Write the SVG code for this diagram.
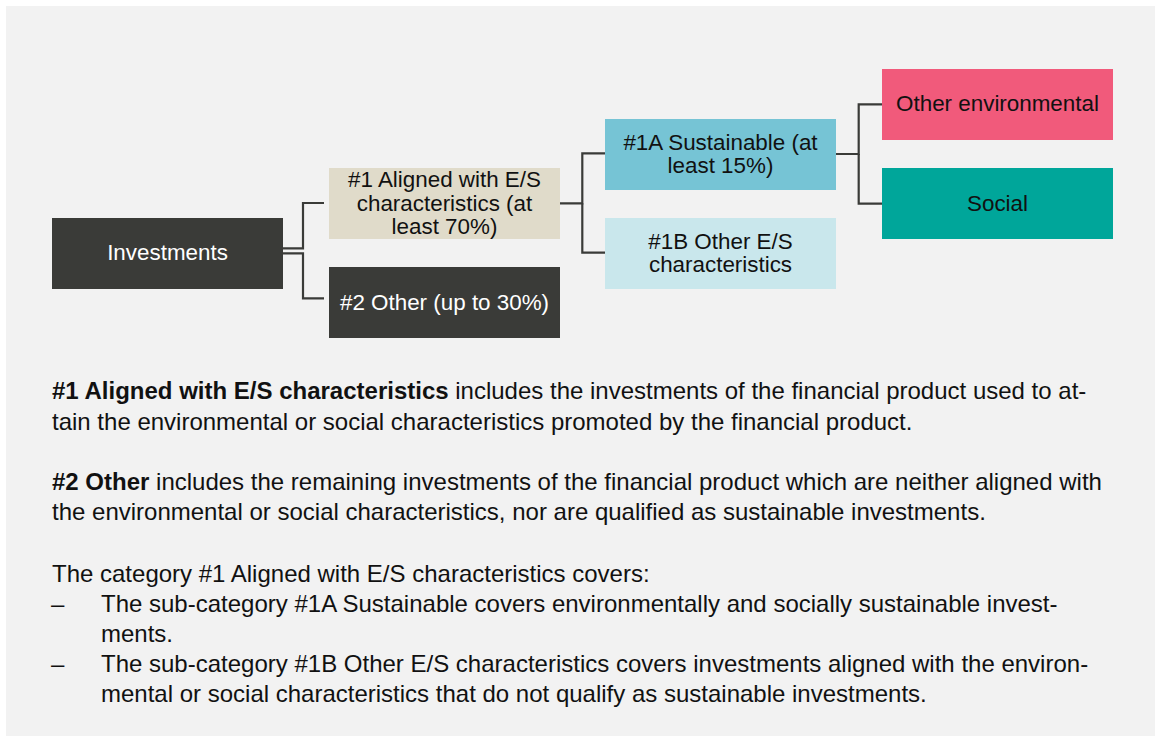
<svg xmlns="http://www.w3.org/2000/svg" width="1155" height="736" viewBox="0 0 1155 736">
  <style>
    .box-dark { fill: #3a3b38; }
    .box-beige { fill: #e0dbca; }
    .box-blue { fill: #76c4d5; }
    .box-pale { fill: #c9e7ec; }
    .box-pink { fill: #f15a7b; }
    .box-teal { fill: #00a69a; }
    .lbl { font-family: "Liberation Sans", Arial, sans-serif; font-size: 22.4px; text-anchor: middle; }
    .lbl-w { fill: #ffffff; }
    .lbl-k { fill: #111111; }
    .conn { fill: none; stroke: #3a3b38; stroke-width: 2.2; }
    .body { font-family: "Liberation Sans", Arial, sans-serif; font-size: 24px; fill: #111111; }
    .b { font-weight: bold; }
  </style>
  <rect x="0" y="0" width="1155" height="736" fill="#ffffff"/>
  <rect x="6" y="6" width="1149" height="730" fill="#f2f2f2"/>

  <g id="connectors">
    <path class="conn" d="M283,248.3 H303 V203 H324"/>
    <path class="conn" d="M283,253.3 H303 V298.3 H324"/>
    <path class="conn" d="M560,203.3 H582.3 V153.3 H605"/>
    <path class="conn" d="M582.3,203.3 V252.7 H605"/>
    <path class="conn" d="M836,154 H858.7 V104.3 H882"/>
    <path class="conn" d="M858.7,154 V203.7 H882"/>
  </g>

  <g id="node-investments">
    <rect class="box-dark" x="52" y="218" width="231" height="71"/>
    <text class="lbl lbl-w" x="167.5" y="259.5">Investments</text>
  </g>
  <g id="node-aligned">
    <rect class="box-beige" x="329" y="168" width="231" height="71"/>
    <text class="lbl lbl-k" x="444.5" y="187">#1 Aligned with E/S</text>
    <text class="lbl lbl-k" x="444.5" y="210.5">characteristics (at</text>
    <text class="lbl lbl-k" x="444.5" y="233.5">least 70%)</text>
  </g>
  <g id="node-other">
    <rect class="box-dark" x="329" y="267" width="231" height="71"/>
    <text class="lbl lbl-w" x="444.5" y="310">#2 Other (up to 30%)</text>
  </g>
  <g id="node-sustainable">
    <rect class="box-blue" x="605" y="119" width="231" height="71"/>
    <text class="lbl lbl-k" x="720.5" y="149.5">#1A Sustainable (at</text>
    <text class="lbl lbl-k" x="720.5" y="172.5">least 15%)</text>
  </g>
  <g id="node-other-es">
    <rect class="box-pale" x="605" y="218" width="231" height="71"/>
    <text class="lbl lbl-k" x="720.5" y="248.5">#1B Other E/S</text>
    <text class="lbl lbl-k" x="720.5" y="271.5">characteristics</text>
  </g>
  <g id="node-other-env">
    <rect class="box-pink" x="882" y="69" width="231" height="71"/>
    <text class="lbl lbl-k" x="997.5" y="111">Other environmental</text>
  </g>
  <g id="node-social">
    <rect class="box-teal" x="882" y="168" width="231" height="71"/>
    <text class="lbl lbl-k" x="997.5" y="211">Social</text>
  </g>

  <g id="body-text">
    <text class="body" x="52" y="399"><tspan class="b">#1 Aligned with E/S characteristics</tspan> includes the investments of the financial product used to at-</text>
    <text class="body" x="52" y="429.5">tain the environmental or social characteristics promoted by the financial product.</text>
    <text class="body" x="52" y="490"><tspan class="b">#2 Other</tspan> includes the remaining investments of the financial product which are neither aligned with</text>
    <text class="body" x="52" y="520">the environmental or social characteristics, nor are qualified as sustainable investments.</text>
    <text class="body" x="52" y="581.5">The category #1 Aligned with E/S characteristics covers:</text>
    <text class="body" x="51" y="611.5">–</text>
    <text class="body" x="101" y="611.5">The sub-category #1A Sustainable covers environmentally and socially sustainable invest-</text>
    <text class="body" x="101" y="641.5">ments.</text>
    <text class="body" x="51" y="672">–</text>
    <text class="body" x="101" y="672">The sub-category #1B Other E/S characteristics covers investments aligned with the environ-</text>
    <text class="body" x="101" y="702">mental or social characteristics that do not qualify as sustainable investments.</text>
  </g>
</svg>
